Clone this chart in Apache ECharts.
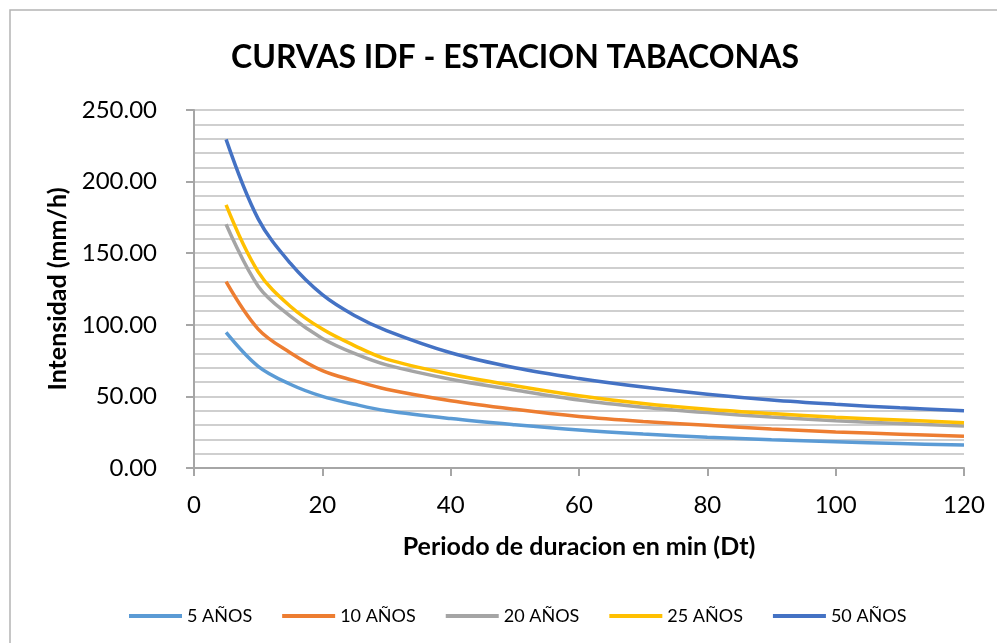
<!DOCTYPE html>
<html>
<head>
<meta charset="utf-8">
<script src="https://cdn.jsdelivr.net/npm/echarts@6/dist/echarts.min.js"></script>
<style>
  html, body { margin: 0; padding: 0; background: #fff; }
  #chart { width: 997px; height: 643px; }
</style>
</head>
<body>
<div id="chart"></div>
<script>
// duraciones (min)
var duraciones = [5, 10, 15, 20, 25, 30, 40, 50, 60, 70, 80, 90, 100, 110, 120];
// intensidades (mm/h)
var int5 = [94.7, 71.0, 58.5, 50.0, 44.5, 40.0, 34.5, 30.2, 26.5, 23.7, 21.5, 19.7, 18.3, 17.1, 16.0];
var int10 = [130.1, 97.0, 80.5, 68.0, 61.0, 55.0, 47.0, 41.0, 36.0, 32.5, 29.8, 27.3, 25.2, 23.6, 22.1];
var int20 = [170.2, 127.0, 106.0, 90.5, 80.0, 72.0, 62.0, 54.5, 47.5, 42.5, 38.7, 35.6, 33.0, 31.0, 29.3];
var int25 = [183.7, 137.0, 113.0, 97.0, 85.5, 76.0, 65.5, 57.5, 50.5, 45.0, 41.0, 38.0, 35.5, 33.5, 31.6];
var int50 = [229.5, 174.0, 143.0, 121.0, 106.5, 96.0, 80.5, 70.0, 62.5, 56.5, 51.5, 47.5, 44.5, 42.0, 40.0];

var nombres = ['5 AÑOS', '10 AÑOS', '20 AÑOS', '25 AÑOS', '50 AÑOS'];
var colores = ['#5B9BD5', '#ED7D31', '#A5A5A5', '#FFC000', '#4472C4'];
var valores = [int5, int10, int20, int25, int50];

var fuente = 'Lato';

function pares(vals) {
  return duraciones.map(function (d, i) { return [d, vals[i]]; });
}

var myChart = echarts.init(document.getElementById('chart'));

var series = nombres.map(function (n, i) {
  return {
    name: n,
    type: 'line',
    data: pares(valores[i]),
    smooth: 0.35,
    showSymbol: false,
    color: colores[i],
    lineStyle: { width: 3.5, color: colores[i] }
  };
});

var option = {
  backgroundColor: '#fff',
  animation: false,
  title: {
    text: 'CURVAS IDF - ESTACION TABACONAS',
    left: 510,
    top: 37,
    textAlign: 'center',
    textStyle: { fontFamily: fuente, fontWeight: 'bold', fontSize: 32, color: '#000' }
  },
  graphic: [{
    type: 'rect',
    shape: { x: 10, y: 10, width: 1000, height: 650 },
    style: { fill: 'none', stroke: '#b4b4b4', lineWidth: 1.5 },
    silent: true
  }],
  grid: { left: 194, right: 33, top: 110, bottom: 175 },
  legend: {
    data: nombres.map(function (n) { return { name: n, icon: 'rect' }; }),
    left: 124,
    top: 602,
    itemWidth: 53,
    itemHeight: 4,
    itemGap: 30,
    textStyle: { fontFamily: fuente, fontSize: 18, color: '#000' }
  },
  xAxis: {
    type: 'value',
    min: 0,
    max: 120,
    interval: 20,
    name: 'Periodo de duracion en min (Dt)',
    nameLocation: 'middle',
    nameGap: 66,
    nameTextStyle: { fontFamily: fuente, fontWeight: 'bold', fontSize: 25, color: '#000' },
    axisLine: { show: true, lineStyle: { color: '#a6a6a6', width: 2 } },
    axisTick: { show: true, length: 8, lineStyle: { color: '#a6a6a6', width: 2 } },
    axisLabel: { margin: 25, fontFamily: fuente, fontSize: 24, color: '#000' },
    splitLine: { show: false }
  },
  yAxis: {
    type: 'value',
    min: 0,
    max: 250,
    interval: 50,
    name: 'Intensidad (mm/h)',
    nameLocation: 'middle',
    nameGap: 119,
    nameTextStyle: { fontFamily: fuente, fontWeight: 'bold', fontSize: 25, color: '#000' },
    axisLine: { show: true, lineStyle: { color: '#a6a6a6', width: 2 } },
    axisTick: { show: true, length: 8, lineStyle: { color: '#a6a6a6', width: 2 } },
    axisLabel: {
      margin: 37,
      fontFamily: fuente,
      fontSize: 24,
      color: '#000',
      formatter: function (v) { return v.toFixed(2); }
    },
    splitLine: { show: true, lineStyle: { color: '#cfcfcf', width: 2 } },
    minorTick: { show: false, splitNumber: 5 },
    minorSplitLine: { show: true, lineStyle: { color: '#cfcfcf', width: 2 } }
  },
  series: series
};

myChart.setOption(option);
</script>
</body>
</html>
